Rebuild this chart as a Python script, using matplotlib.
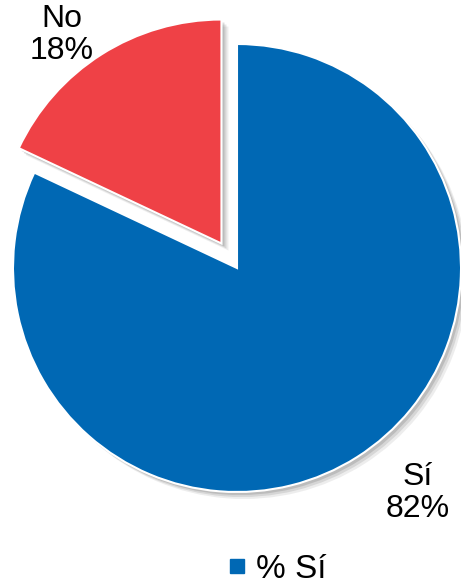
import matplotlib.pyplot as plt
from matplotlib.lines import Line2D

# data
labels = ['Sí', 'No']
values = [82, 18]
colors = ['#0068B4', '#EF4146']
legend_label = '% Sí'

plt.rcParams['font.family'] = ['Liberation Sans', 'DejaVu Sans']

fig = plt.figure(figsize=(4.61, 5.88), dpi=100)
ax = fig.add_axes([0, 0, 1, 1])

cx, cy, r = 237, 320, 224
# matplotlib's explode offset is in data units, not scaled by the radius
explode = [0, 29]

# soft shadow under each slice
for dx, a in [(7, 0.10), (5, 0.15), (3, 0.2)]:
    ax.pie(values, explode=explode, startangle=90, counterclock=False,
           radius=r, center=(cx + dx, cy - dx), colors=['#555555'] * 2,
           wedgeprops=dict(linewidth=0, alpha=a), frame=True)

wedges, _ = ax.pie(values, explode=explode, startangle=90, counterclock=False,
                   radius=r, center=(cx, cy), colors=colors,
                   wedgeprops=dict(edgecolor='white', linewidth=1.5), frame=True)
ax.set_xlim(0, 461)
ax.set_ylim(0, 588)
ax.set_aspect('equal')
ax.axis('off')

# labels outside the pie
ax.text(62, 588 - 35, f'{labels[1]}\n{values[1]}%', ha='center', va='center',
        fontsize=23, linespacing=1.1)
ax.text(418, 588 - 493, f'{labels[0]}\n{values[0]}%', ha='center', va='center',
        fontsize=23, linespacing=1.1)

handle = Line2D([], [], marker='s', color=colors[0], linestyle='none', markersize=10)
fig.legend([handle], [legend_label], loc='center', bbox_to_anchor=(0.595, 1 - 569 / 588),
           frameon=False, fontsize=24, handletextpad=0.1, handlelength=0.9)

fig.savefig('out.png', dpi=100)
